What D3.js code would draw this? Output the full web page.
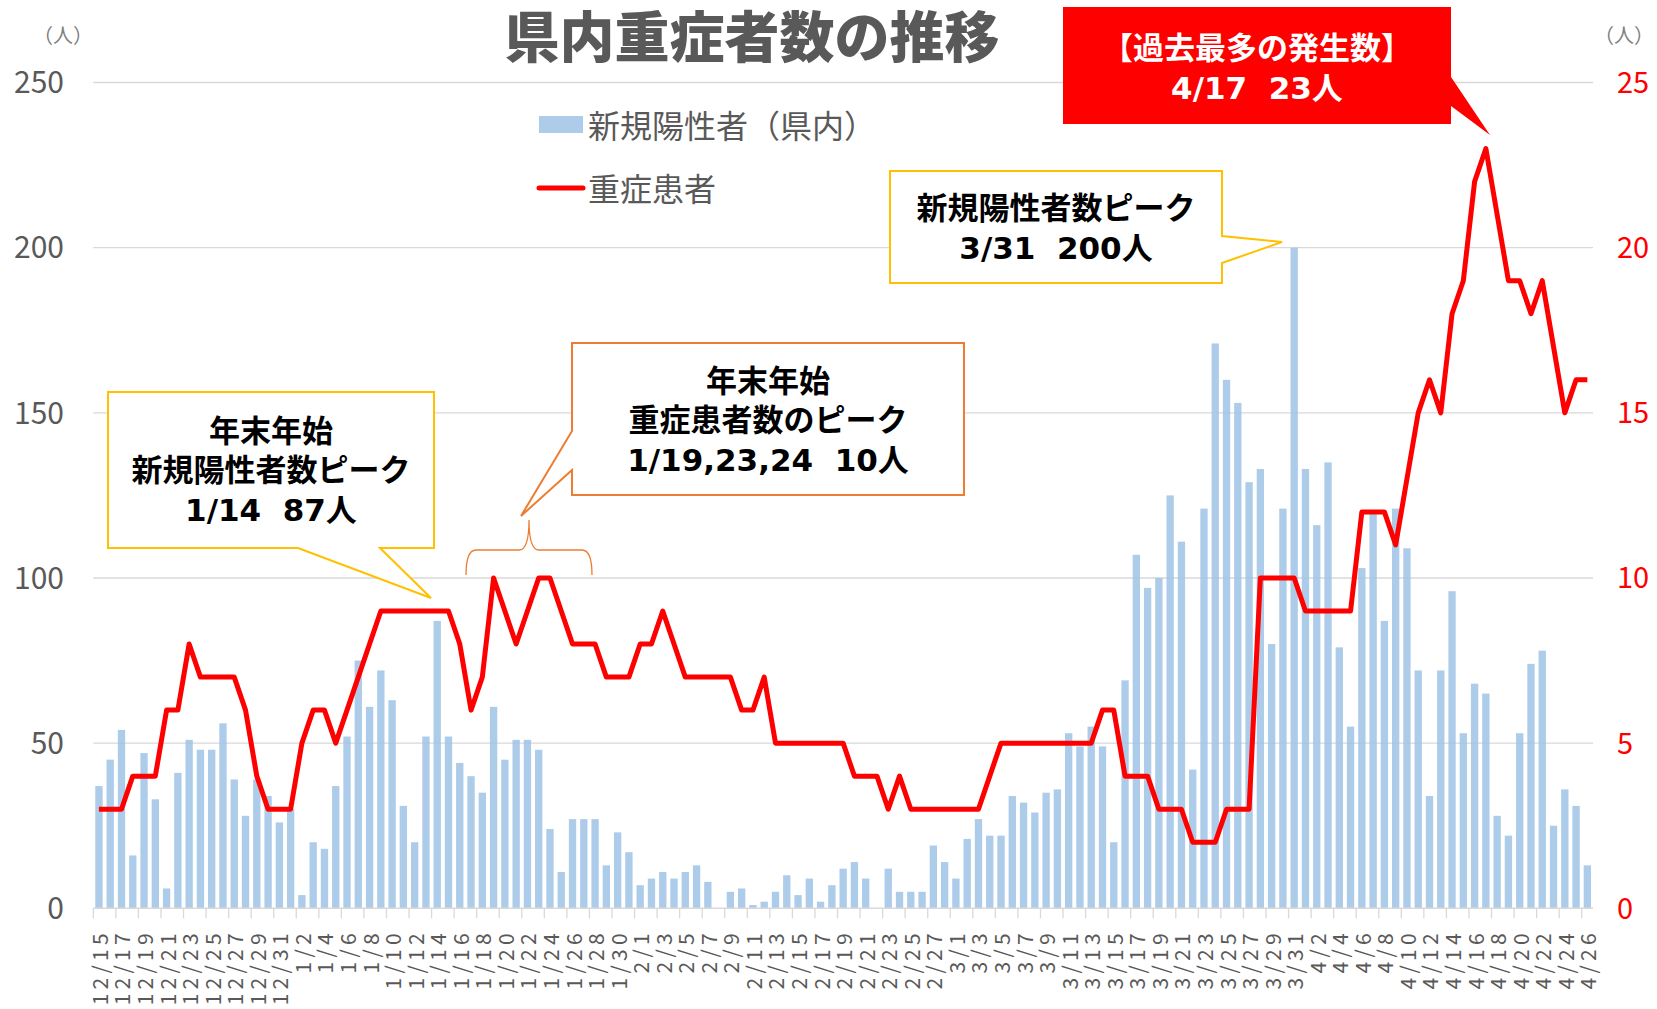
<!DOCTYPE html>
<html>
<head>
<meta charset="utf-8">
<script src="https://cdn.jsdelivr.net/npm/d3@7"></script>
<style>
  body { margin: 0; background: #fff; }
  svg { display: block; }
  text { font-family: "Noto Sans CJK JP", "Noto Sans", sans-serif; }
</style>
</head>
<body>
<div id="chart"></div>
<script>
// categories: one per day, 12/15 .. 4/26
var dates = [
  "12/15","12/16","12/17","12/18","12/19","12/20","12/21","12/22","12/23","12/24",
  "12/25","12/26","12/27","12/28","12/29","12/30","12/31",
  "1/1","1/2","1/3","1/4","1/5","1/6","1/7","1/8","1/9","1/10",
  "1/11","1/12","1/13","1/14","1/15","1/16","1/17","1/18","1/19","1/20",
  "1/21","1/22","1/23","1/24","1/25","1/26","1/27","1/28","1/29","1/30","1/31",
  "2/1","2/2","2/3","2/4","2/5","2/6","2/7","2/8","2/9","2/10",
  "2/11","2/12","2/13","2/14","2/15","2/16","2/17","2/18","2/19","2/20",
  "2/21","2/22","2/23","2/24","2/25","2/26","2/27","2/28",
  "3/1","3/2","3/3","3/4","3/5","3/6","3/7","3/8","3/9","3/10",
  "3/11","3/12","3/13","3/14","3/15","3/16","3/17","3/18","3/19","3/20",
  "3/21","3/22","3/23","3/24","3/25","3/26","3/27","3/28","3/29","3/30","3/31",
  "4/1","4/2","4/3","4/4","4/5","4/6","4/7","4/8","4/9","4/10",
  "4/11","4/12","4/13","4/14","4/15","4/16","4/17","4/18","4/19","4/20",
  "4/21","4/22","4/23","4/24","4/25","4/26"
];

// 新規陽性者（県内） - left axis
var newCases = [
  37,45,54,16,47,33,6,41,51,48,
  48,56,39,28,39,34,26,30,4,20,
  18,37,52,75,61,72,63,31,20,52,
  87,52,44,40,35,61,45,51,51,48,
  24,11,27,27,27,13,23,17,7,9,
  11,9,11,13,8,0,5,6,1,2,
  5,10,4,9,2,7,12,14,9,0,
  12,5,5,5,19,14,9,21,27,22,
  22,34,32,29,35,36,53,49,55,49,
  20,69,107,97,100,125,111,42,121,171,
  160,153,129,133,80,121,200,133,116,135,
  79,55,103,120,87,121,109,72,34,72,
  96,53,68,65,28,22,53,74,78,25,
  36,31,13
];

// 重症患者 - right axis
var severe = [
  3,3,3,4,4,4,6,6,8,7,
  7,7,7,6,4,3,3,3,5,6,
  6,5,6,7,8,9,9,9,9,9,
  9,9,8,6,7,10,9,8,9,10,
  10,9,8,8,8,7,7,7,8,8,
  9,8,7,7,7,7,7,6,6,7,
  5,5,5,5,5,5,5,4,4,4,
  3,4,3,3,3,3,3,3,3,4,
  5,5,5,5,5,5,5,5,5,6,
  6,4,4,4,3,3,3,2,2,2,
  3,3,3,10,10,10,10,9,9,9,
  9,9,12,12,12,11,13,15,16,15,
  18,19,22,23,21,19,19,18,19,17,
  15,16,16
];

var leftTicks = [0, 50, 100, 150, 200, 250];
var rightTicks = [0, 5, 10, 15, 20, 25];

var W = 1657, H = 1009;
var plotL = 93.3, plotR = 1593, plotT = 82.5, plotB = 908.3;
var barColor = "#9DC3E6", gridColor = "#d9d9d9", axisText = "#595959";
var calloutFont = "\"DejaVu Sans\", \"Noto Sans CJK JP\", sans-serif";

var svg = d3.select("#chart").append("svg")
  .attr("width", W).attr("height", H);

var x = d3.scaleBand().domain(dates).range([plotL, plotR])
  .paddingInner(0.35).paddingOuter(0.175);
var xi = d3.scaleLinear().domain([0, dates.length]).range([plotL, plotR]);
var yL = d3.scaleLinear().domain([0, 250]).range([plotB, plotT]);
var yR = d3.scaleLinear().domain([0, 25]).range([plotB, plotT]);
var bw = x.bandwidth();

///////////////////////////////////////// gridlines
svg.append("g")
  .selectAll("line")
  .data(leftTicks.slice(1))
  .enter().append("line")
    .attr("x1", plotL).attr("x2", plotR)
    .attr("y1", function(d) { return yL(d); })
    .attr("y2", function(d) { return yL(d); })
    .attr("stroke", gridColor).attr("stroke-width", 1.3);

///////////////////////////////////////// bars
svg.append("g")
  .selectAll("rect")
  .data(newCases)
  .enter().append("rect")
    .attr("x", function(d, i) { return x(dates[i]); })
    .attr("width", bw)
    .attr("y", function(d) { return yL(d); })
    .attr("height", function(d) { return plotB - yL(d); })
    .attr("fill", barColor)
    .attr("fill-opacity", 0.85);

///////////////////////////////////////// X axis
svg.append("line")
  .attr("x1", plotL).attr("x2", plotR)
  .attr("y1", plotB).attr("y2", plotB)
  .attr("stroke", gridColor).attr("stroke-width", 1.5);

var tickIdx = d3.range(0, dates.length, 2);
svg.append("g")
  .selectAll("line")
  .data(tickIdx)
  .enter().append("line")
    .attr("x1", function(d) { return xi(d); })
    .attr("x2", function(d) { return xi(d); })
    .attr("y1", plotB).attr("y2", plotB + 10)
    .attr("stroke", gridColor).attr("stroke-width", 1.3);

svg.append("g")
  .selectAll("text")
  .data(tickIdx)
  .enter().append("text")
    .attr("transform", function(d) {
      return "translate(" + (x(dates[d]) + bw / 2) + ",929) rotate(-90)";
    })
    .attr("text-anchor", "end")
    .attr("dominant-baseline", "central")
    .attr("font-size", 21)
    .attr("letter-spacing", 4.3)
    .attr("fill", axisText)
    .text(function(d) { return dates[d]; });

///////////////////////////////////////// Y axes
var gl = svg.append("g")
  .attr("transform", "translate(64,0)")
  .call(d3.axisLeft(yL).tickValues(leftTicks).tickSize(0).tickPadding(0));
gl.select(".domain").remove();
gl.selectAll("text")
  .attr("font-family", null)
  .attr("font-size", 30)
  .attr("fill", axisText)
  .attr("dy", "0.34em");

var gr = svg.append("g")
  .attr("transform", "translate(1617,0)")
  .call(d3.axisRight(yR).tickValues(rightTicks).tickSize(0).tickPadding(0));
gr.select(".domain").remove();
gr.selectAll("text")
  .attr("font-family", null)
  .attr("font-size", 29)
  .attr("fill", "#ff0000")
  .attr("dy", "0.34em");

svg.append("text").attr("x", 33).attr("y", 34)
  .attr("dominant-baseline", "central").attr("font-size", 20)
  .attr("fill", "#7f7f7f").text("（人）");
svg.append("text").attr("x", 1594).attr("y", 34)
  .attr("dominant-baseline", "central").attr("font-size", 20)
  .attr("fill", "#7f7f7f").text("（人）");

///////////////////////////////////////// severe line
svg.append("path")
  .datum(severe)
  .attr("fill", "none")
  .attr("stroke", "#ff0000")
  .attr("stroke-width", 5)
  .attr("stroke-linejoin", "round")
  .attr("d", d3.line()
    .x(function(d, i) { return x(dates[i]) + bw / 2; })
    .y(function(d) { return yR(d); }));

///////////////////////////////////////// title
svg.append("text")
  .attr("x", 752).attr("y", 57)
  .attr("text-anchor", "middle")
  .attr("font-size", 55).attr("font-weight", 900)
  .attr("fill", axisText)
  .text("県内重症者数の推移");

///////////////////////////////////////// legend
svg.append("rect").attr("x", 539).attr("y", 116).attr("width", 44).attr("height", 17)
  .attr("fill", barColor).attr("fill-opacity", 0.85);
svg.append("text").attr("x", 588).attr("y", 124)
  .attr("dominant-baseline", "central").attr("font-size", 32)
  .attr("fill", axisText).text("新規陽性者（県内）");
svg.append("line").attr("x1", 539).attr("x2", 583).attr("y1", 188).attr("y2", 188)
  .attr("stroke", "#ff0000").attr("stroke-width", 5).attr("stroke-linecap", "round");
svg.append("text").attr("x", 588).attr("y", 187)
  .attr("dominant-baseline", "central").attr("font-size", 32)
  .attr("fill", axisText).text("重症患者");

///////////////////////////////////////// callouts
function callout(pathD, stroke, fill) {
  svg.append("path").attr("d", pathD)
    .attr("fill", fill).attr("stroke", stroke)
    .attr("stroke-width", stroke === "none" ? 0 : 2)
    .attr("stroke-linejoin", "miter");
}
function lines(cx, ys, texts, color) {
  texts.forEach(function(t, k) {
    svg.append("text").attr("x", cx).attr("y", ys[k])
      .attr("text-anchor", "middle").attr("dominant-baseline", "central")
      .style("font-family", calloutFont)
      .attr("font-size", 31).attr("font-weight", 700)
      .attr("fill", color).text(t);
  });
}

// 年末年始 新規陽性者数ピーク
callout("M108,392 L434,392 L434,548 L380,548 L431,598 L298,548 L108,548 Z", "#FFC000", "#fff");
lines(271, [431, 470, 510], ["年末年始", "新規陽性者数ピーク", "1/14\u00a0\u00a087人"], "#000");

// 年末年始 重症患者数のピーク
callout("M572,343 L964,343 L964,495 L572,495 L572,470 L521,516 L572,431 Z", "#ED7D31", "#fff");
lines(768, [381, 420, 460], ["年末年始", "重症患者数のピーク", "1/19,23,24\u00a0\u00a010人"], "#000");

// brace over 1/19-1/28
svg.append("path")
  .attr("d", "M466,575 Q466,550 476,550 L519,550 Q529,550 529,520 Q529,550 539,550 L582,550 Q592,550 592,575")
  .attr("fill", "none").attr("stroke", "#ED7D31").attr("stroke-width", 1.3);

// 新規陽性者数ピーク 3/31
callout("M890,171 L1222,171 L1222,236 L1282,242 L1222,263 L1222,283 L890,283 Z", "#FFC000", "#fff");
lines(1056, [208, 248], ["新規陽性者数ピーク", "3/31\u00a0\u00a0200人"], "#000");

// 過去最多
callout("M1063,7 L1451,7 L1451,77 L1490,135 L1451,106 L1451,124 L1063,124 Z", "none", "#ff0000");
lines(1257, [48, 88], ["【過去最多の発生数】", "4/17\u00a0\u00a023人"], "#fff");
</script>
</body>
</html>
